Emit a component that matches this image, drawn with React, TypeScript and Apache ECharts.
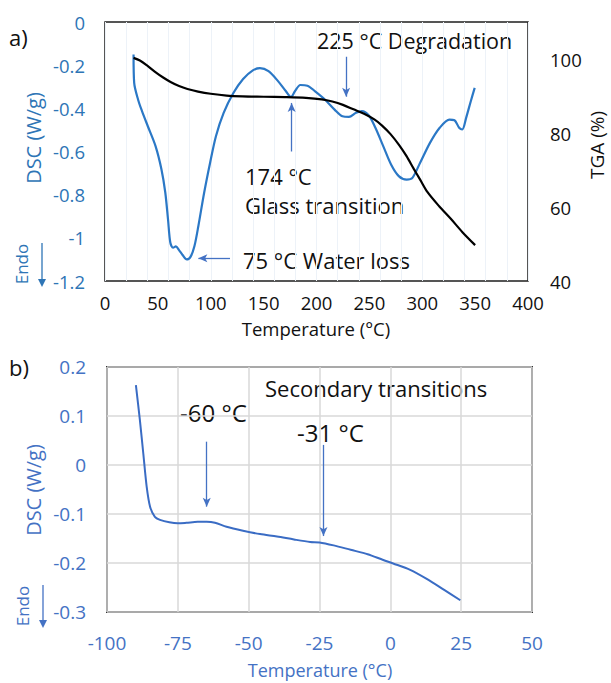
import React, { useEffect, useRef } from "react";
import * as echarts from "echarts";

// ---------- Chart a) DSC (blue) ----------
const tempA = [27, 27.6, 31.3, 35, 40.5, 47.8, 53.4, 57, 59.6, 61.8, 64.4, 67, 70, 73.6, 77.3, 81, 84.6, 88.3, 93.8, 99.4, 104.9, 112.2, 121.4, 130.6, 139.8, 146.5, 154.6, 163.8, 171.1, 175.9, 179.6, 184.7, 191.4, 198.7, 207.9, 217.1, 224.5, 230.7, 237.4, 242.9, 249.5, 255.7, 263.1, 270.5, 277.8, 285.2, 290.7, 298, 307.3, 316.5, 325.7, 330.5, 334.9, 337.8, 341.5, 345.9, 349.6];
const dscA = [-0.15, -0.282, -0.36, -0.413, -0.483, -0.575, -0.683, -0.79, -0.915, -1.023, -1.046, -1.04, -1.057, -1.081, -1.1, -1.087, -1.038, -0.945, -0.79, -0.652, -0.529, -0.421, -0.329, -0.264, -0.224, -0.214, -0.228, -0.275, -0.321, -0.347, -0.321, -0.292, -0.295, -0.321, -0.359, -0.406, -0.437, -0.44, -0.421, -0.413, -0.433, -0.49, -0.575, -0.66, -0.714, -0.73, -0.722, -0.652, -0.56, -0.49, -0.452, -0.455, -0.49, -0.498, -0.444, -0.367, -0.305];

// ---------- Chart a) TGA (black) ----------
const tempTGA = [27, 33, 40, 47, 55, 62, 70, 78, 88, 100, 115, 130, 150, 170, 190, 205, 215, 225, 235, 245, 255, 262, 270, 278, 285, 292, 298, 305, 316, 327, 338, 350];
const tga = [100.3, 99.6, 98.2, 96.6, 95.0, 93.8, 92.7, 91.9, 91.2, 90.6, 90.1, 89.9, 89.8, 89.7, 89.5, 89.1, 88.5, 87.6, 86.4, 85.2, 83.6, 82.0, 79.7, 76.8, 73.8, 70.3, 67.4, 64.0, 60.2, 56.8, 53.2, 49.7];

// ---------- Chart b) DSC ----------
const tempB = [-89.8, -88.4, -87.2, -86, -84.8, -83.1, -81.3, -78, -75, -72, -68, -64.8, -61.9, -57.8, -52, -46, -40, -34, -28.3, -25, -20, -14, -8, -2.5, 1, 7, 13, 19, 24.7];
const dscB = [0.163, 0.092, 0.024, -0.044, -0.085, -0.106, -0.112, -0.117, -0.119, -0.118, -0.116, -0.116, -0.118, -0.126, -0.134, -0.141, -0.146, -0.152, -0.157, -0.158, -0.164, -0.173, -0.182, -0.194, -0.201, -0.214, -0.233, -0.255, -0.276];

// Annotation arrows (data coordinates)
const arrowsA = [
  { from: [228, -0.161], to: [228, -0.346] },
  { from: [176.5, -0.6], to: [176.5, -0.375] },
  { from: [118.2, -1.095], to: [88.3, -1.095] },
];
const arrowsB = [
  { from: [-64.8, 0.0476], to: [-64.8, -0.085] },
  { from: [-23.6, 0.041], to: [-23.6, -0.145] },
];

const FONT = '"Open Sans", "Noto Sans", sans-serif';
const BLUE_A = "#2E75B6";
const BLUE_B = "#4472C4";
const ARROW = "#4472C4";

function zip(xs: number[], ys: number[]) {
  return xs.map((x, i) => [x, ys[i]]);
}

function txt(text: string, x: number, y: number, size: number, color: string, align = "left", rotate = 0) {
  return {
    type: "text",
    x,
    y,
    rotation: rotate,
    silent: true,
    style: {
      text,
      fill: color,
      font: `${size}px ${FONT}`,
      textAlign: align,
      align,
      textVerticalAlign: "middle",
      verticalAlign: "middle",
    },
  };
}

function endoArrow(x: number, y1: number, y2: number, color: string) {
  return [
    { type: "line", silent: true, shape: { x1: x, y1, x2: x, y2: y2 - 6 }, style: { stroke: color, lineWidth: 1.3 } },
    {
      type: "polygon",
      silent: true,
      shape: { points: [[x - 4, y2 - 8], [x + 4, y2 - 8], [x, y2]] },
      style: { fill: color },
    },
  ];
}

export default function App() {
  const ref = useRef<HTMLDivElement>(null);
  useEffect(() => {
    if (!ref.current) return;
    const chart = echarts.init(ref.current, undefined, { renderer: "svg" });
    const mkArrows = (arr: { from: number[]; to: number[] }[]) =>
      arr.map((a) => [{ coord: a.from }, { coord: a.to }]);

    const option: any = {
      animation: false,
      backgroundColor: "#ffffff",
      textStyle: { fontFamily: FONT },
      grid: [
        { left: 105, top: 22, width: 423, height: 259, show: true, borderColor: "#1e1e1e", borderWidth: 1.5, backgroundColor: "transparent" },
        { left: 107, top: 367, width: 425, height: 245, show: true, borderColor: "#1e1e1e", borderWidth: 1.8, backgroundColor: "transparent" },
      ],
      xAxis: [
        {
          gridIndex: 0, type: "value", min: 0, max: 400, interval: 50,
          axisLine: { show: false, onZero: false }, axisTick: { show: false },
          splitLine: { show: false },
          axisLabel: { color: "#111", fontSize: 18.5, margin: 12, fontFamily: FONT },
        },
        {
          gridIndex: 0, type: "value", min: 0, max: 400, interval: 20, position: "top",
          axisLine: { show: false, onZero: false }, axisTick: { show: false }, axisLabel: { show: false },
          splitLine: { show: true, lineStyle: { color: "#edf2f8", width: 1 } },
        },
        {
          gridIndex: 1, type: "value", min: -100, max: 50, interval: 25,
          axisLine: { show: false, onZero: false }, axisTick: { show: false },
          splitLine: { show: true, lineStyle: { color: "#d9d9d9", width: 1.5 } },
          axisLabel: { color: BLUE_B, fontSize: 19, margin: 21, fontFamily: FONT },
        },
      ],
      yAxis: [
        {
          gridIndex: 0, type: "value", min: -1.2, max: 0, interval: 0.2,
          axisLine: { show: false, onZero: false }, axisTick: { show: false },
          splitLine: { show: false },
          axisLabel: { color: BLUE_A, fontSize: 18.5, margin: 20, fontFamily: FONT },
        },
        {
          gridIndex: 0, type: "value", min: 40, max: 110, interval: 20, position: "right",
          axisLine: { show: false, onZero: false }, axisTick: { show: false },
          splitLine: { show: false },
          axisLabel: {
            color: "#111", fontSize: 18.5, margin: 22, fontFamily: FONT,
            formatter: (v: number) => (v > 100 ? "" : String(v)),
          },
        },
        {
          gridIndex: 1, type: "value", min: -0.3, max: 0.2, interval: 0.1,
          axisLine: { show: false, onZero: false }, axisTick: { show: false },
          splitLine: { show: true, lineStyle: { color: "#d9d9d9", width: 1.5 } },
          axisLabel: { color: BLUE_B, fontSize: 19, margin: 21, fontFamily: FONT },
        },
      ],
      series: [
        {
          name: "DSC a", type: "line", xAxisIndex: 0, yAxisIndex: 0,
          data: zip(tempA, dscA), showSymbol: false, symbol: "none", smooth: 0.3,
          lineStyle: { color: "#2B78C6", width: 2.2 }, z: 3,
          markLine: {
            silent: true, symbol: ["none", "arrow"], symbolSize: [6, 9],
            label: { show: false },
            lineStyle: { color: ARROW, width: 1.3, type: "solid" },
            data: mkArrows(arrowsA),
          },
        },
        {
          name: "TGA", type: "line", xAxisIndex: 0, yAxisIndex: 1,
          data: zip(tempTGA, tga), showSymbol: false, symbol: "none", smooth: 0.3,
          lineStyle: { color: "#000000", width: 2.2 }, z: 4,
        },
        {
          name: "DSC b", type: "line", xAxisIndex: 2, yAxisIndex: 2,
          data: zip(tempB, dscB), showSymbol: false, symbol: "none", smooth: 0.3,
          lineStyle: { color: "#3A6CC4", width: 2 }, z: 3,
          markLine: {
            silent: true, symbol: ["none", "arrow"], symbolSize: [6, 9],
            label: { show: false },
            lineStyle: { color: ARROW, width: 1.3, type: "solid" },
            data: mkArrows(arrowsB),
          },
        },
      ],
      graphic: [
        txt("a)", 9, 37, 22, "#111"),
        txt("b)", 9, 367, 22, "#111"),
        txt("Temperature (°C)", 316, 328, 18.5, "#111", "center"),
        txt("DSC (W/g)", 33, 138, 20, BLUE_A, "center", Math.PI / 2),
        txt("TGA (%)", 597, 145, 19, "#111", "center", Math.PI / 2),
        txt("Endo", 21, 264, 17, BLUE_A, "center", Math.PI / 2),
        ...endoArrow(42, 243, 287, BLUE_A),
        txt("225 °C Degradation", 317, 40, 21.5, "#111"),
        txt("174 °C", 245, 176, 22, "#111"),
        txt("Glass transition", 245, 205, 22, "#111"),
        txt("75 °C Water loss", 243, 260, 22, "#111"),
        txt("Temperature (°C)", 320, 670, 18, BLUE_B, "center"),
        txt("DSC (W/g)", 33, 490, 20, BLUE_B, "center", Math.PI / 2),
        txt("Endo", 22, 606, 17, BLUE_B, "center", Math.PI / 2),
        ...endoArrow(43, 585, 628, BLUE_B),
        txt("Secondary transitions", 265, 388, 22, "#111"),
        txt("-60 °C", 180, 412, 24, "#111"),
        txt("-31 °C", 297, 432, 24, "#111"),
      ],
    };
    chart.setOption(option);
    return () => chart.dispose();
  }, []);
  return (
    <div
      ref={ref}
      style={{ position: "absolute", left: 0, top: 0, width: 611, height: 683, background: "#fff" }}
    />
  );
}
